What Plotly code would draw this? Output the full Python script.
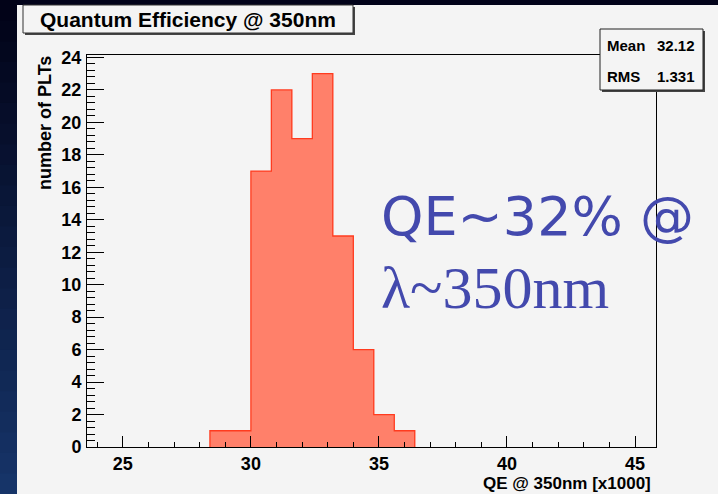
import plotly.graph_objects as go

# ---- data ----
bin_edges = [28.4, 29.2, 30.0, 30.8, 31.6, 32.4, 33.2, 34.0, 34.8, 35.6, 36.4]
counts = [1, 1, 17, 22, 19, 23, 13, 6, 2, 1]
stat_names = ["Mean", "RMS"]
stat_values = ["32.12", "1.331"]
title_text = "Quantum Efficiency @ 350nm"
x_title = "QE @ 350nm [x1000]"
y_title = "number of PLTs"
note_line1 = "QE~32% @"
note_line2 = "λ~350nm"

W, H = 718, 494
L, R, T, B = 87, 62, 55, 47
PW, PH = W - L - R, H - T - B


def px(x):
    return (x - L) / PW


def py(y):
    return (H - B - y) / PH


centers = [(a + b) / 2 for a, b in zip(bin_edges[:-1], bin_edges[1:])]
widths = [b - a for a, b in zip(bin_edges[:-1], bin_edges[1:])]

fig = go.Figure()
fig.add_trace(go.Bar(x=centers, y=counts, width=widths,
                     marker=dict(color="#ff806a", line=dict(width=0)),
                     hoverinfo="skip", showlegend=False))
step_x = [bin_edges[0]] + bin_edges
step_y = [0] + counts + [0]
fig.add_trace(go.Scatter(x=step_x, y=step_y, mode="lines",
                         line=dict(color="#ff3b1f", width=1.3, shape="hv"),
                         hoverinfo="skip", showlegend=False))

shapes = []
# gray panel
shapes.append(dict(type="rect", xref="paper", yref="paper", layer="below",
                   x0=px(17), x1=px(720), y0=py(5), y1=py(496),
                   fillcolor="#f4f4f4", line=dict(width=0)))
# left gradient strip
n = 24
c0 = (2, 3, 24)
c1 = (22, 52, 104)
for i in range(n):
    t = i / (n - 1)
    col = "rgb(%d,%d,%d)" % tuple(int(c0[k] + (c1[k] - c0[k]) * t) for k in range(3))
    shapes.append(dict(type="rect", xref="paper", yref="paper", layer="below",
                       x0=px(-2), x1=px(17), y0=py(i * H / n), y1=py((i + 1) * H / n + 1),
                       fillcolor=col, line=dict(width=0)))
# title box with shadow
shapes.append(dict(type="rect", xref="paper", yref="paper", layer="above",
                   x0=px(25), x1=px(355), y0=py(7), y1=py(35),
                   fillcolor="#444444", line=dict(width=0)))
shapes.append(dict(type="rect", xref="paper", yref="paper", layer="above",
                   x0=px(23), x1=px(353), y0=py(5), y1=py(33),
                   fillcolor="#f4f4f4", line=dict(color="#333333", width=1)))
# stats box with shadow
shapes.append(dict(type="rect", xref="paper", yref="paper", layer="above",
                   x0=px(602), x1=px(705), y0=py(31), y1=py(92),
                   fillcolor="#444444", line=dict(width=0)))
shapes.append(dict(type="rect", xref="paper", yref="paper", layer="above",
                   x0=px(600), x1=px(703), y0=py(29), y1=py(90),
                   fillcolor="#f4f4f4", line=dict(color="#222222", width=1)))

bold = dict(family="Liberation Sans, Arial", color="black", weight="bold")
annotations = [
    dict(text=title_text, xref="paper", yref="paper", x=px(188), y=py(19),
         xanchor="center", yanchor="middle", showarrow=False,
         font=dict(size=21, **bold)),
    dict(text=x_title, xref="paper", yref="paper", x=px(653), y=py(483),
         xanchor="right", yanchor="middle", showarrow=False,
         font=dict(size=17, **bold)),
    dict(text=y_title, xref="paper", yref="paper", x=px(45), y=py(54),
         xanchor="center", yanchor="top", textangle=-90, showarrow=False,
         font=dict(size=18, **bold)),
    dict(text=note_line1, xref="paper", yref="paper", x=px(379), y=py(217),
         xanchor="left", yanchor="middle", showarrow=False,
         font=dict(size=54, family="DejaVu Sans", color="#4349ad")),
    dict(text=note_line2, xref="paper", yref="paper", x=px(379), y=py(288),
         xanchor="left", yanchor="middle", showarrow=False,
         font=dict(size=60, family="Liberation Serif", color="#4349ad")),
]
stat_rows_y = [45, 76]
for name, val, yy in zip(stat_names, stat_values, stat_rows_y):
    annotations.append(dict(text=name, xref="paper", yref="paper", x=px(605), y=py(yy),
                            xanchor="left", yanchor="middle", showarrow=False,
                            font=dict(size=15, **bold)))
    annotations.append(dict(text=val, xref="paper", yref="paper", x=px(697), y=py(yy),
                            xanchor="right", yanchor="middle", showarrow=False,
                            font=dict(size=15, **bold)))

fig.update_layout(
    width=W, height=H,
    margin=dict(l=L, r=R, t=T, b=B),
    paper_bgcolor="#02031a",
    plot_bgcolor="rgba(0,0,0,0)",
    bargap=0,
    shapes=shapes,
    annotations=annotations,
    xaxis=dict(range=[23.6, 45.82], tick0=25, dtick=5, ticks="inside", ticklen=11,
               tickcolor="black", showgrid=False, zeroline=False,
               showline=True, linecolor="black", linewidth=1, mirror=True,
               tickfont=dict(size=18, **bold), ticklabelstandoff=0,
               minor=dict(ticks="inside", ticklen=5, dtick=1, tick0=25, tickcolor="black")),
    yaxis=dict(range=[0, 24.15], tick0=0, dtick=2, ticks="inside", ticklen=17,
               tickcolor="black", showgrid=False, zeroline=False,
               showline=True, linecolor="black", linewidth=1, mirror=True,
               tickfont=dict(size=18, **bold), ticklabelstandoff=1,
               minor=dict(ticks="inside", ticklen=8, dtick=0.4, tick0=0, tickcolor="black")),
)

fig.write_html("out.html")
